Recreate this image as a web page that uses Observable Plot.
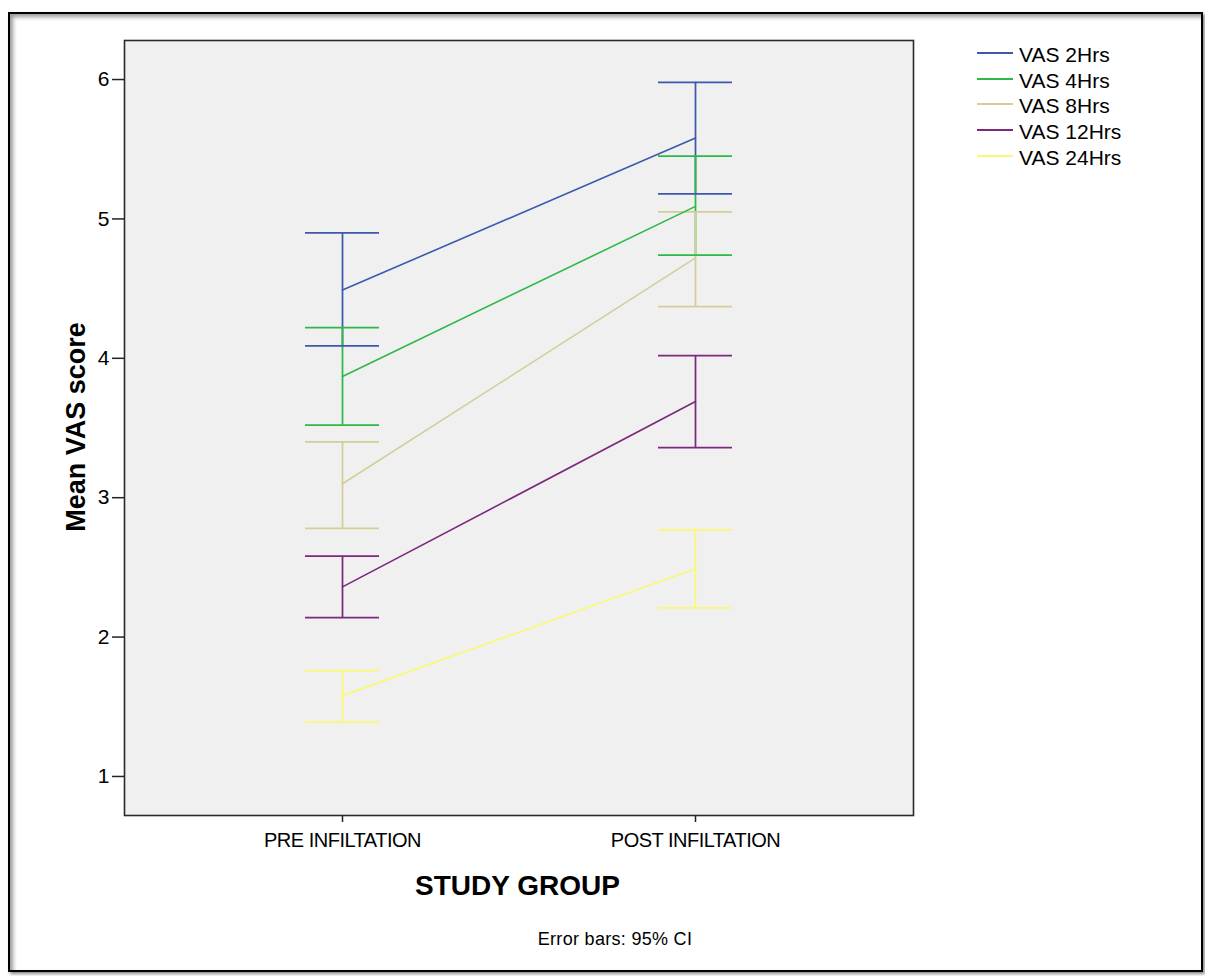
<!DOCTYPE html>
<html><head><meta charset="utf-8">
<script src="https://cdn.jsdelivr.net/npm/d3@7"></script>
<script src="https://cdn.jsdelivr.net/npm/@observablehq/plot@0.6"></script>
<style>
body{margin:0;background:#fff;font-family:"Liberation Sans",Arial,sans-serif;color:#000;}
#wrap{position:relative;width:1205px;height:976px;overflow:hidden;background:#fff;}
#chart{position:absolute;left:0;top:0;}
#border{position:absolute;left:8px;top:12px;width:1191px;height:956px;border:2px solid #000;box-shadow:inset 3px 3px 4px #999, 2px 2px 3px #888;}
.abs{position:absolute;white-space:nowrap;}
#ylab{left:76px;top:427px;transform:translate(-50%,-50%) rotate(-90deg);font-weight:bold;font-size:27px;line-height:27px;}
#xlab{left:0;width:1035px;text-align:center;top:872px;font-weight:bold;font-size:28px;line-height:28px;}
#note{left:0;width:1230px;text-align:center;top:930px;font-size:18px;line-height:18px;letter-spacing:0.3px;}
.row{position:absolute;left:977px;height:25px;width:200px;}
.row .ln{position:absolute;left:0;top:10px;width:36px;height:2px;}
.row .tx{position:absolute;left:42px;top:0;font-size:21px;line-height:25px;}
#chart g[aria-label="x-axis tick label"] text{letter-spacing:-0.5px;}
</style></head><body>
<div id="wrap"><div id="chart"></div><div id="legend"></div>
<div class="abs" id="ylab">Mean VAS score</div>
<div class="abs" id="xlab">STUDY GROUP</div>
<div class="abs" id="note">Error bars: 95% CI</div>
<div id="border"></div>
</div>
<script>
const groups = ["PRE INFILTATION", "POST INFILTATION"];
const series = ["VAS 2Hrs", "VAS 4Hrs", "VAS 8Hrs", "VAS 12Hrs", "VAS 24Hrs"];
const colors = ["#3E58AC", "#2EB848", "#D3CE97", "#7C287D", "#FBF873"];
const preMean  = [4.49, 3.87, 3.10, 2.36, 1.58];
const preLow   = [4.09, 3.52, 2.78, 2.14, 1.39];
const preHigh  = [4.90, 4.22, 3.40, 2.58, 1.76];
const postMean = [5.58, 5.09, 4.72, 3.69, 2.49];
const postLow  = [5.18, 4.74, 4.37, 3.36, 2.21];
const postHigh = [5.98, 5.45, 5.05, 4.02, 2.77];
const yTicks = [1, 2, 3, 4, 5, 6];

const rows = [];
series.forEach((s, i) => {
  rows.push({group: groups[0], series: s, mean: preMean[i], low: preLow[i], high: preHigh[i]});
  rows.push({group: groups[1], series: s, mean: postMean[i], low: postLow[i], high: postHigh[i]});
});

const chart = Plot.plot({
  width: 1205, height: 976,
  marginLeft: 124, marginRight: 292, marginTop: 40, marginBottom: 161,
  style: {background: "transparent", fontFamily: "'Liberation Sans', Arial, sans-serif", color: "#000", overflow: "visible"},
  x: {type: "band", domain: groups, paddingInner: 0.791, paddingOuter: 0.51, label: null},
  y: {domain: [0.72, 6.28], label: null},
  color: {domain: series, range: colors},
  marks: [
    Plot.frame({fill: "#F0F0F0"}),
    Plot.axisY({ticks: yTicks, tickFormat: d => String(d), tickSize: 12, tickPadding: 3, fontSize: 21, label: null, stroke: "#222", strokeWidth: 1.5}),
    Plot.axisX({tickSize: 7, tickPadding: 10, fontSize: 20, label: null, stroke: "#222", strokeWidth: 1.5}),
    Plot.ruleX(rows, {x: "group", y1: "low", y2: "high", stroke: "series", strokeWidth: 1.75}),
    Plot.tickY(rows, {x: "group", y: "low", stroke: "series", strokeWidth: 1.75}),
    Plot.tickY(rows, {x: "group", y: "high", stroke: "series", strokeWidth: 1.75}),
    Plot.line(rows, {x: "group", y: "mean", z: "series", stroke: "series", strokeWidth: 1.6}),
    Plot.frame({stroke: "#2a2a2a", strokeWidth: 1.6})
  ]
});
document.getElementById("chart").appendChild(chart);

const legend = document.getElementById("legend");
const legendY = [52.7, 78.5, 104.2, 129.9, 155.6];
series.forEach((s, i) => {
  const row = document.createElement("div");
  row.className = "row";
  row.style.top = (legendY[i] - 11) + "px";
  const ln = document.createElement("div");
  ln.className = "ln";
  ln.style.background = colors[i];
  const tx = document.createElement("div");
  tx.className = "tx";
  tx.textContent = s;
  row.appendChild(ln); row.appendChild(tx);
  legend.appendChild(row);
});
</script>
</body></html>
